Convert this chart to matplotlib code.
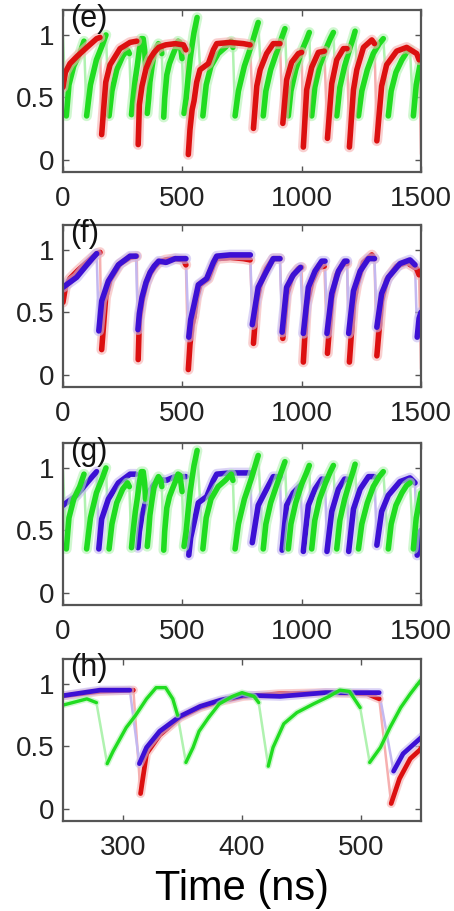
import numpy as np
import matplotlib
matplotlib.use('Agg')
import matplotlib.pyplot as plt

plt.rcParams['font.family'] = ['Liberation Sans', 'DejaVu Sans']

# intensity traces (normalised), time in ns
t_red = [0, 10, 29, 60, 100, 141, 155, 162,
         179, 197, 239, 281, 309, 315,
         320, 331, 348, 365, 382, 401, 430, 470, 505, 515, 525,
         532, 541, 549, 560, 574, 609, 630, 644, 700, 756, 784, 798,
         812, 826, 853, 881, 909, 921,
         937, 958, 986, 1000, 1007,
         1021, 1042, 1070, 1095, 1108,
         1126, 1147, 1175, 1190, 1200,
         1217, 1231, 1259, 1294, 1305, 1315,
         1335, 1356, 1398, 1440, 1482, 1492, 1500]
y_red = [0.58, 0.70, 0.77, 0.83, 0.90, 0.97, 0.98, 0.20,
         0.62, 0.76, 0.89, 0.94, 0.95, 0.12,
         0.44, 0.59, 0.73, 0.81, 0.86, 0.90, 0.92, 0.93, 0.92, 0.88, 0.04,
         0.24, 0.40, 0.47, 0.62, 0.72, 0.77, 0.88, 0.93, 0.94, 0.93, 0.92, 0.25,
         0.59, 0.72, 0.85, 0.93, 0.93, 0.29,
         0.64, 0.78, 0.85, 0.86, 0.10,
         0.56, 0.74, 0.86, 0.87, 0.17,
         0.61, 0.80, 0.89, 0.89, 0.10,
         0.56, 0.72, 0.90, 0.96, 0.93, 0.15,
         0.59, 0.76, 0.87, 0.90, 0.85, 0.80, 0.05]

t_blu = [0, 57, 100, 127, 141, 150,
         162, 190, 232, 281, 306, 314,
         320, 331, 348, 365, 382, 401, 432, 470, 515, 527,
         535, 549, 567, 602, 630, 644, 700, 756, 785, 793,
         818, 853, 881, 909, 918,
         937, 965, 995, 1007,
         1028, 1056, 1084, 1098, 1106,
         1126, 1154, 1180, 1190, 1197,
         1217, 1245, 1280, 1305, 1315,
         1335, 1363, 1412, 1454, 1475, 1484,
         1492, 1500]
y_blu = [0.70, 0.78, 0.88, 0.94, 0.97, 0.35,
         0.59, 0.75, 0.88, 0.95, 0.95, 0.36,
         0.49, 0.62, 0.74, 0.82, 0.87, 0.91, 0.90, 0.93, 0.93, 0.30,
         0.44, 0.56, 0.72, 0.77, 0.90, 0.95, 0.96, 0.96, 0.96, 0.40,
         0.70, 0.83, 0.93, 0.93, 0.34,
         0.70, 0.80, 0.86, 0.33,
         0.70, 0.83, 0.91, 0.91, 0.33,
         0.65, 0.83, 0.91, 0.91, 0.33,
         0.67, 0.83, 0.93, 0.93, 0.38,
         0.65, 0.78, 0.89, 0.92, 0.88, 0.30,
         0.45, 0.50]

t_grn = [0, 14,
         25, 45, 70, 88, 99,
         115, 140, 165, 180, 193,
         205, 225, 250, 270, 278, 287,
         292, 303, 311, 320, 328, 336, 342, 346, 353,
         359, 364, 372, 381, 392, 400, 410, 414, 422,
         426, 435, 446, 460, 473, 482, 490, 499, 507,
         516, 524, 533, 541, 549, 562, 586,
         600, 620, 650, 680, 705, 712, 721,
         735, 760, 790, 810, 818, 839,
         850, 870, 895, 915, 930, 944,
         955, 975, 1000, 1020, 1032, 1042,
         1055, 1075, 1100, 1120, 1133, 1147,
         1160, 1180, 1200, 1215, 1224, 1238,
         1252, 1275, 1300, 1325, 1342, 1363,
         1375, 1395, 1420, 1440, 1454, 1468,
         1480, 1500]
y_grn = [0.97, 0.35,
         0.60, 0.75, 0.85, 0.95, 0.35,
         0.60, 0.80, 0.92, 1.00, 0.35,
         0.55, 0.72, 0.83, 0.88, 0.85, 0.36,
         0.46, 0.65, 0.75, 0.88, 0.97, 0.97, 0.88, 0.75, 0.37,
         0.49, 0.62, 0.73, 0.84, 0.90, 0.93, 0.90, 0.85, 0.34,
         0.49, 0.68, 0.77, 0.84, 0.90, 0.95, 0.94, 0.81, 0.37,
         0.49, 0.65, 0.81, 0.92, 1.02, 1.14, 0.35,
         0.60, 0.75, 0.85, 0.90, 0.95, 0.90, 0.35,
         0.55, 0.75, 0.92, 1.05, 1.10, 0.35,
         0.55, 0.72, 0.86, 0.97, 1.05, 0.35,
         0.55, 0.72, 0.87, 0.96, 1.02, 0.35,
         0.58, 0.75, 0.88, 0.97, 1.02, 0.35,
         0.58, 0.75, 0.88, 0.97, 1.03, 0.35,
         0.55, 0.72, 0.85, 0.93, 0.97, 0.35,
         0.55, 0.70, 0.80, 0.86, 0.88, 0.35,
         0.60, 0.80]

RED = ('#dc1010', '#f6b0b0')
GRN = ('#20dc20', '#b0f2b0')
BLU = ('#3c10d4', '#c4b8f0')


def trace(ax, t, y, cols, lw=4.0):
    t = np.asarray(t, float)
    y = np.asarray(y, float)
    # fast falling edges drawn thin and pale, slow recovery drawn thick
    drop = (np.diff(y) < -0.25) & (np.diff(t) < 30)
    cuts = [0] + list(np.where(drop)[0] + 1) + [len(t)]
    for i in np.where(drop)[0]:
        ax.plot(t[i:i + 2], y[i:i + 2], color=cols[1], lw=1.8, zorder=1)
    for a, b in zip(cuts[:-1], cuts[1:]):
        ax.plot(t[a:b], y[a:b], color=cols[1], lw=lw * 1.9, alpha=0.6,
                solid_capstyle='round', solid_joinstyle='round', zorder=2)
        ax.plot(t[a:b], y[a:b], color=cols[0], lw=lw,
                solid_capstyle='round', solid_joinstyle='round', zorder=2)


fig = plt.figure(figsize=(4.54, 9.11), dpi=100)
W, H = 454, 911
tops = [10, 225, 443, 659]
labels = ['(e)', '(f)', '(g)', '(h)']
axes = []
for top in tops:
    ax = fig.add_axes([63 / W, 1 - (top + 162) / H, 358 / W, 162 / H])
    axes.append(ax)

trace(axes[0], t_grn, y_grn, GRN)
trace(axes[0], t_red, y_red, RED)

trace(axes[1], t_red, y_red, RED)
trace(axes[1], t_blu, y_blu, BLU)

trace(axes[2], t_blu, y_blu, BLU)
trace(axes[2], t_grn, y_grn, GRN)

trace(axes[3], t_red, y_red, RED, lw=3.4)
trace(axes[3], t_blu, y_blu, BLU, lw=3.4)
trace(axes[3], t_grn, y_grn, GRN, lw=2.4)

for k, ax in enumerate(axes):
    if k < 3:
        ax.set_xlim(0, 1500)
        ax.set_xticks([0, 500, 1000, 1500])
    else:
        ax.set_xlim(250, 550)
        ax.set_xticks([300, 400, 500])
    ax.set_ylim(-0.1, 1.2)
    ax.set_yticks([0, 0.5, 1])
    ax.set_yticklabels(['0', '0.5', '1'])
    ax.tick_params(direction='in', top=True, right=True, length=4,
                   width=1, color='#555555', labelsize=20,
                   labelcolor='#222222')
    ax.tick_params(axis='x', pad=10)
    ax.tick_params(axis='y', pad=6)
    for s in ax.spines.values():
        s.set_color('#555555')
        s.set_linewidth(1.6)
        s.set_zorder(5)
    ax.text(0.02, 1.04, labels[k], transform=ax.transAxes, fontsize=22,
            va='top', ha='left', color='#111111', zorder=6)

axes[3].set_xlabel('Time (ns)', fontsize=30, labelpad=6)

fig.savefig('out.png', dpi=100)
